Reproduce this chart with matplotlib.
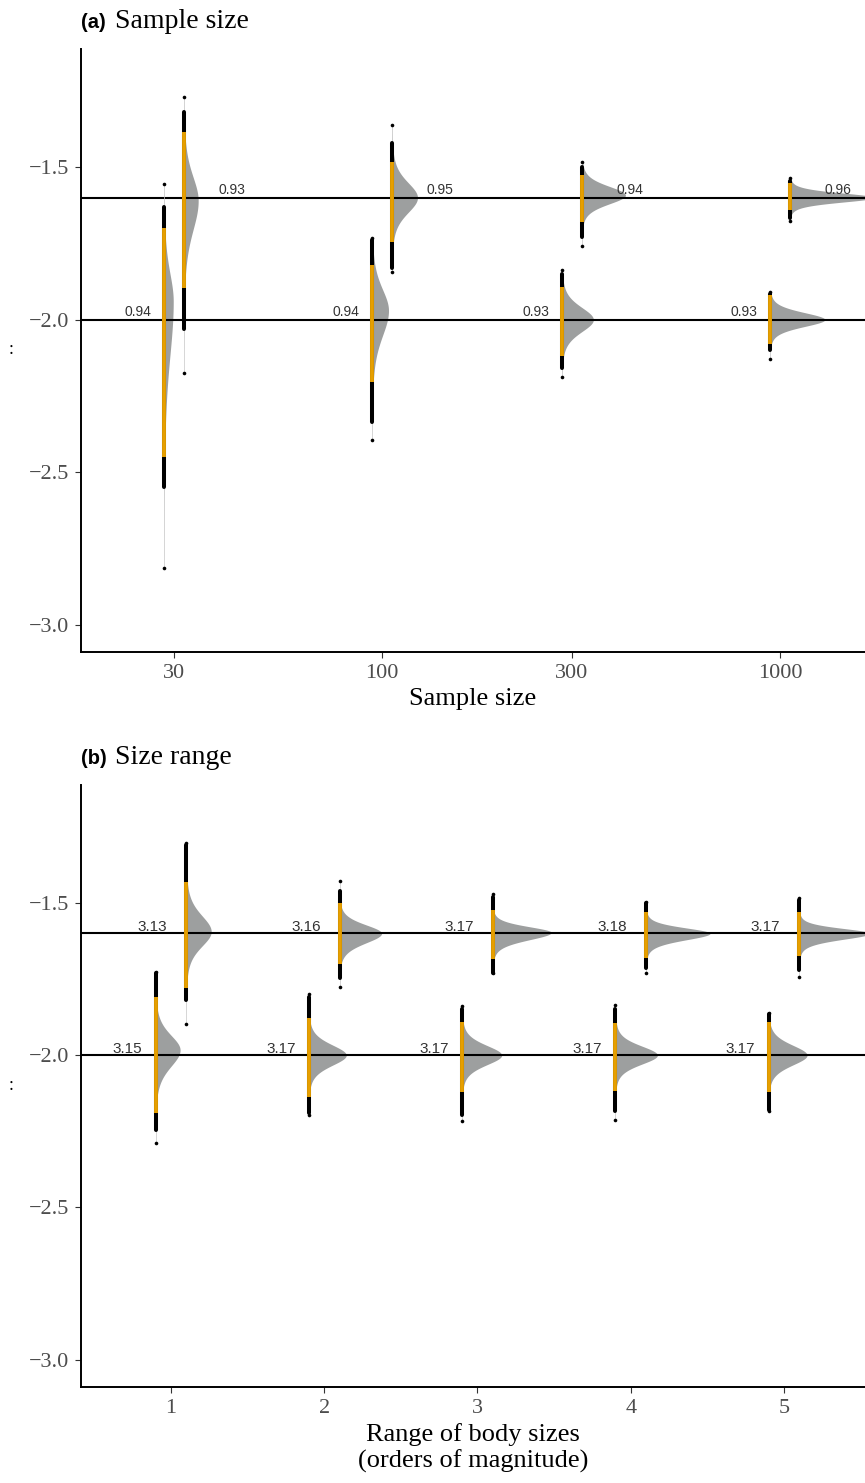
import numpy as np
import matplotlib
matplotlib.use("Agg")
import matplotlib.pyplot as plt
from matplotlib.ticker import FixedLocator, NullLocator

plt.rcParams["font.family"] = ["Liberation Serif", "DejaVu Serif"]

# ============================================================
# DATA
# ============================================================
TRUE_VALUES = [-2.0, -1.6]          # index 0 = true -2.0, index 1 = true -1.6
Y_TICKS = [-3.0, -2.5, -2.0, -1.5]
Y_TICK_LABELS = ["\u22123.0", "\u22122.5", "\u22122.0", "\u22121.5"]

# ---- panel (a): sample size --------------------------------
SAMPLE_SIZES = [30, 100, 300, 1000]
SAMPLE_LABELS = ["30", "100", "300", "1000"]
A_MODE = [[-1.94, -1.97, -2.00, -2.00], [-1.61, -1.60, -1.592, -1.60]]
A_SD_HI = [[0.100, 0.075, 0.043, 0.0246], [0.085, 0.053, 0.031, 0.016]]
A_SD_LO = [[0.195, 0.090, 0.043, 0.0246], [0.105, 0.053, 0.031, 0.016]]
A_MIN = [[-2.816, -2.396, -2.19, -2.13], [-2.176, -1.845, -1.759, -1.677]]
A_MAX = [[-1.556, -1.733, -1.838, -1.91], [-1.27, -1.362, -1.484, -1.536]]
A_DOTS_LO = [[-2.55, -2.337, -2.16, -2.10], [-2.03, -1.83, -1.73, -1.667]]
A_DOTS_HI = [[-1.63, -1.74, -1.85, -1.915], [-1.32, -1.42, -1.50, -1.545]]
A_CI_LO = [[-2.45, -2.206, -2.12, -2.08], [-1.897, -1.746, -1.68, -1.64]]
A_CI_HI = [[-1.70, -1.82, -1.894, -1.92], [-1.385, -1.484, -1.526, -1.553]]
A_TEXT = [["0.94", "0.94", "0.93", "0.93"], ["0.93", "0.95", "0.94", "0.96"]]

# ---- panel (b): size range ---------------------------------
SIZE_RANGES = [1, 2, 3, 4, 5]
SIZE_LABELS = ["1", "2", "3", "4", "5"]
B_MODE = [[-1.983, -2.0, -2.0, -2.0, -2.0], [-1.594, -1.60, -1.597, -1.60, -1.60]]
B_SD_HI = [[0.052, 0.036, 0.034, 0.032, 0.035], [0.056, 0.030, 0.020, 0.019, 0.017]]
B_SD_LO = [[0.058, 0.036, 0.034, 0.032, 0.035], [0.052, 0.034, 0.026, 0.023, 0.021]]
B_MIN = [[-2.29, -2.196, -2.215, -2.212, -2.185], [-1.897, -1.778, -1.731, -1.731, -1.744]]
B_MAX = [[-1.726, -1.799, -1.84, -1.837, -1.862], [-1.302, -1.428, -1.472, -1.496, -1.485]]
B_DOTS_LO = [[-2.245, -2.19, -2.196, -2.185, -2.18], [-1.818, -1.746, -1.731, -1.714, -1.72]]
B_DOTS_HI = [[-1.73, -1.81, -1.85, -1.85, -1.865], [-1.31, -1.46, -1.48, -1.50, -1.49]]
B_CI_LO = [[-2.19, -2.136, -2.12, -2.117, -2.121], [-1.779, -1.70, -1.685, -1.68, -1.676]]
B_CI_HI = [[-1.808, -1.878, -1.89, -1.895, -1.892], [-1.43, -1.501, -1.523, -1.529, -1.529]]
B_TEXT = [["3.15", "3.17", "3.17", "3.17", "3.17"], ["3.13", "3.16", "3.17", "3.18", "3.17"]]

# ============================================================
# STYLE
# ============================================================
ORANGE = "#E69F00"
VIOLIN = "#9d9f9f"
TICK_GREY = "#4d4d4d"
NUM_GREY = "#333333"
YLIM = (-3.09, -1.113)


def split_t(y, mode, s_hi, s_lo):
    # half-violin outline: split Student-t (df=7) density
    s = np.where(y >= mode, s_hi, s_lo)
    z = (y - mode) / s
    return 2.0 / (s_hi + s_lo) * 0.3850 * (1 + z ** 2 / 7) ** -4


def draw_panel(ax, xs, shift, dodge, scale, mode, sd_hi, sd_lo, ymin, ymax,
               dots_lo, dots_hi, ci_lo, ci_hi, texts, text_off, text_dy, text_size):
    for k, truth in enumerate(TRUE_VALUES):
        ax.axhline(truth, color="black", lw=1.5, zorder=2)
        for i, base in enumerate(xs):
            x0 = shift(base, dodge[k])
            yy = np.linspace(ymin[k][i], ymax[k][i], 500)
            w = scale * split_t(yy, mode[k][i], sd_hi[k][i], sd_lo[k][i])
            ax.fill_betweenx(yy, x0, shift(x0, w), color=VIOLIN, lw=0, zorder=1)
            ax.plot([x0, x0], [ymin[k][i], ymax[k][i]], color="#c8c8c8", lw=0.5, zorder=3)
            ax.plot([x0, x0], [dots_lo[k][i], dots_hi[k][i]], color="black", lw=2.9,
                    solid_capstyle="round", zorder=4)
            ax.plot([x0, x0], [ymin[k][i], ymax[k][i]], "o", color="black", ms=2.6,
                    mec="none", zorder=4)
            ax.plot([x0, x0], [ci_lo[k][i], ci_hi[k][i]], color=ORANGE, lw=2.8,
                    solid_capstyle="butt", zorder=5)
            ax.text(shift(base, text_off[k]), truth + text_dy, texts[k][i],
                    ha="center", va="baseline", fontsize=text_size, color=NUM_GREY,
                    family=["Liberation Sans", "DejaVu Sans"], zorder=6)


def style_axes(ax, tag, title, xlabel):
    for side in ("top", "right"):
        ax.spines[side].set_visible(False)
    for side in ("left", "bottom"):
        ax.spines[side].set_linewidth(1.4)
    ax.set_ylim(*YLIM)
    ax.yaxis.set_major_locator(FixedLocator(Y_TICKS))
    ax.set_yticklabels(Y_TICK_LABELS)
    ax.tick_params(axis="both", length=4, width=0.8, color="#333333",
                   labelcolor=TICK_GREY, labelsize=16)
    ax.tick_params(axis="y", pad=4.5)
    ax.tick_params(axis="x", pad=4.5)
    ax.set_xlabel(xlabel, fontsize=19, color="black", labelpad=4)
    ax.annotate(tag, xy=(0, 1), xycoords="axes fraction", xytext=(0, 20.5),
                textcoords="offset pixels", ha="left", va="baseline",
                fontsize=14.5, fontweight="bold", family=["Liberation Sans", "DejaVu Sans"])
    ax.annotate(title, xy=(0, 1), xycoords="axes fraction", xytext=(34, 20.5),
                textcoords="offset pixels", ha="left", va="baseline", fontsize=20)


fig = plt.figure(figsize=(8.65, 14.83), dpi=100)
ax_a = fig.add_axes([81 / 865, 1 - 652 / 1483, 1 - 81 / 865, 603 / 1483])
ax_b = fig.add_axes([81 / 865, 1 - 1387 / 1483, 1 - 81 / 865, 602 / 1483])

# ---- panel (a): log x axis ---------------------------------
log_shift = lambda base, d: base * 10 ** np.asarray(d)
draw_panel(ax_a, SAMPLE_SIZES, log_shift, [-0.025, 0.025], 0.0088,
           A_MODE, A_SD_HI, A_SD_LO, A_MIN, A_MAX, A_DOTS_LO, A_DOTS_HI,
           A_CI_LO, A_CI_HI, A_TEXT, [-0.09, 0.146], 0.012, 10)
ax_a.set_xscale("log")
ax_a.set_xlim(10 ** 1.2433, 10 ** 3.2136)
ax_a.xaxis.set_major_locator(FixedLocator(SAMPLE_SIZES))
ax_a.xaxis.set_minor_locator(NullLocator())
ax_a.set_xticklabels(SAMPLE_LABELS)
style_axes(ax_a, "(a)", "Sample size", "Sample size")

# ---- panel (b): linear x axis ------------------------------
lin_shift = lambda base, d: base + np.asarray(d)
draw_panel(ax_b, SIZE_RANGES, lin_shift, [-0.1, 0.1], 0.0228,
           B_MODE, B_SD_HI, B_SD_LO, B_MIN, B_MAX, B_DOTS_LO, B_DOTS_HI,
           B_CI_LO, B_CI_HI, B_TEXT, [-0.283, -0.119], 0.007, 11)
ax_b.set_xlim(0.413, 5.529)
ax_b.xaxis.set_major_locator(FixedLocator(SIZE_RANGES))
ax_b.set_xticklabels(SIZE_LABELS)
style_axes(ax_b, "(b)", "Size range", "Range of body sizes\n(orders of magnitude)")

# clipped y-axis titles, only a colon survives at the left edge
fig.text(11 / 865, 1 - 354 / 1483, ":", fontsize=13, ha="center", va="baseline")
fig.text(11 / 865, 1 - 1090 / 1483, ":", fontsize=13, ha="center", va="baseline")

fig.savefig("out.png", dpi=100)
